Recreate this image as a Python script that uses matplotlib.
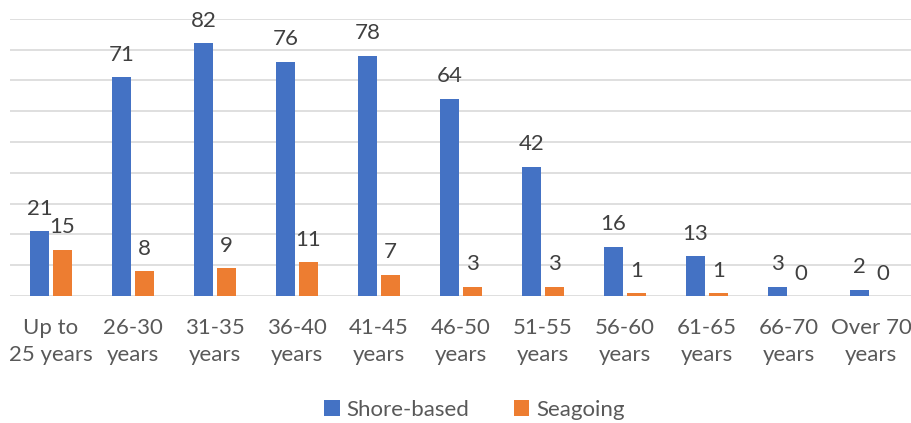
import numpy as np
import matplotlib
matplotlib.use("Agg")
import matplotlib.pyplot as plt

plt.rcParams['font.family'] = ['Lato', 'DejaVu Sans']

categories = ["Up to\n25 years", "26-30\nyears", "31-35\nyears", "36-40\nyears",
              "41-45\nyears", "46-50\nyears", "51-55\nyears", "56-60\nyears",
              "61-65\nyears", "66-70\nyears", "Over 70\nyears"]
shore_based = [21, 71, 82, 76, 78, 64, 42, 16, 13, 3, 2]
seagoing = [15, 8, 9, 11, 7, 3, 3, 1, 1, 0, 0]

blue = "#4472C4"
orange = "#ED7D31"

fig = plt.figure(figsize=(9.12, 4.23), dpi=100)
ax = fig.add_axes([0.011, 0.300, 0.989, 0.6556])

x = np.arange(len(categories))
w = 0.225
off = 0.14
b1 = ax.bar(x - off, shore_based, w, color=blue, label="Shore-based", zorder=3)
b2 = ax.bar(x + off, seagoing, w, color=orange, label="Seagoing", zorder=3)

for bars, vals in ((b1, shore_based), (b2, seagoing)):
    for r, v in zip(bars, vals):
        ax.annotate(str(v), (r.get_x() + r.get_width() / 2, r.get_height()),
                    xytext=(0, 9), textcoords="offset points",
                    ha="center", va="bottom", fontsize=16, color="#404040")

ax.set_xlim(-0.5, len(categories) - 0.5)
ax.set_ylim(0, 90)
ax.set_yticks(np.arange(0, 91, 10))
ax.yaxis.grid(True, color="#d9d9d9", linewidth=1.2, zorder=0)
ax.set_yticklabels([])
ax.tick_params(axis="y", length=0)
ax.set_xticks(x)
ax.set_xticklabels(categories, fontsize=16, color="#595959", linespacing=1.4)
ax.tick_params(axis="x", length=0, pad=16)
for s in ax.spines.values():
    s.set_visible(False)

fig.legend(loc="lower center", bbox_to_anchor=(0.52, -0.04), ncol=2, frameon=False,
           fontsize=16, labelcolor="#595959", handlelength=0.7, handleheight=0.7,
           handletextpad=0.3, columnspacing=2.0)

fig.savefig("out.png", dpi=100)
